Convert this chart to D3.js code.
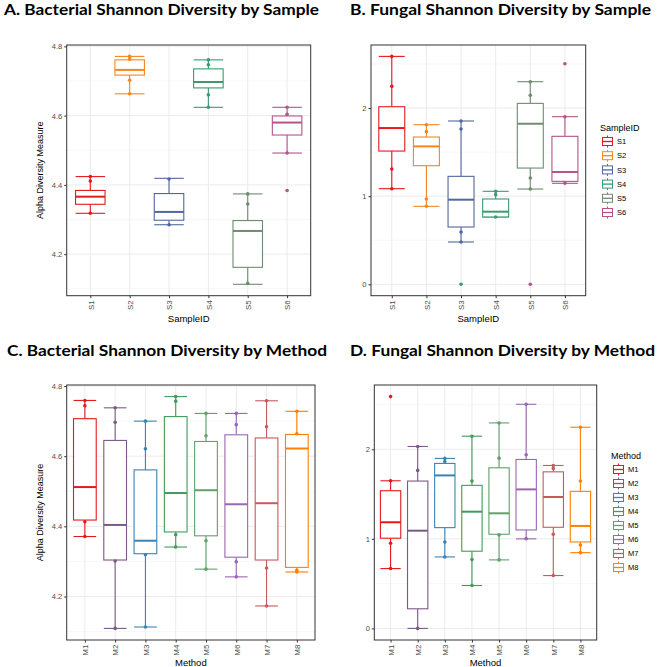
<!DOCTYPE html>
<html><head><meta charset="utf-8">
<script src="https://cdn.jsdelivr.net/npm/d3@7"></script>
<style>
html,body{margin:0;padding:0;background:#fff;}
svg{display:block;}
text{font-family:"Liberation Sans",Arial,sans-serif;}
.title{font-family:Lato,"Open Sans",sans-serif;font-weight:700;font-size:15px;fill:#000;}
</style></head>
<body><svg id="chart" width="657" height="667"></svg>
<script>
// ---------- data ----------
const samples = ["S1","S2","S3","S4","S5","S6"];
const methods = ["M1","M2","M3","M4","M5","M6","M7","M8"];
const sampleColors = ["#E41A1C","#F7861D","#52679C","#3A9A72","#6E8C6E","#B5548A"];
const methodColors = ["#E41A1C","#7C5A86","#3A84B2","#3F9C5A","#62A06C","#9A67B1","#C65B5E","#FF8000"];
const bactTicks = [4.2, 4.4, 4.6, 4.8];
const fungTicks = [0, 1, 2];

// box stats: [lower whisker, q1, median, q3, upper whisker]
const bactSampleBox = [
  [4.318, 4.344, 4.366, 4.384, 4.424],
  [4.663, 4.717, 4.732, 4.761, 4.771],
  [4.285, 4.298, 4.322, 4.375, 4.419],
  [4.624, 4.680, 4.697, 4.735, 4.761],
  [4.113, 4.162, 4.267, 4.297, 4.374],
  [4.492, 4.544, 4.580, 4.599, 4.624]
];
const bactSamplePoints = [
  [4.424, 4.411, 4.318],
  [4.771, 4.763, 4.702, 4.663],
  [4.417, 4.285],
  [4.761, 4.747, 4.660, 4.624],
  [4.374, 4.345, 4.116],
  [4.624, 4.604, 4.492, 4.384]
];
const fungSampleBox = [
  [1.085, 1.512, 1.773, 2.015, 2.586],
  [0.885, 1.346, 1.565, 1.671, 1.811],
  [0.480, 0.650, 0.960, 1.225, 1.853],
  [0.764, 0.764, 0.824, 0.968, 1.055],
  [1.081, 1.319, 1.822, 2.053, 2.299],
  [1.146, 1.168, 1.274, 1.679, 1.902]
];
const fungSamplePoints = [
  [2.586, 2.246, 1.308, 1.085],
  [1.811, 1.732, 0.968, 0.885],
  [1.853, 1.762, 0.594, 0.480],
  [1.055, 1.017, 0.764],
  [2.299, 2.144, 1.206, 1.081],
  [2.503, 1.902, 1.146]
];
// points drawn at one sample position but coloured as another sample
const fungSampleExtra = [
  {at: "S3", colorOf: "S4", value: 0},
  {at: "S5", colorOf: "S6", value: 0}
];
const bactMethodBox = [
  [4.371, 4.418, 4.512, 4.707, 4.759],
  [4.109, 4.304, 4.404, 4.645, 4.738],
  [4.113, 4.322, 4.359, 4.561, 4.700],
  [4.341, 4.384, 4.495, 4.713, 4.770],
  [4.278, 4.373, 4.503, 4.642, 4.722],
  [4.256, 4.312, 4.463, 4.661, 4.722],
  [4.173, 4.304, 4.466, 4.652, 4.758],
  [4.270, 4.283, 4.622, 4.662, 4.728]
];
const bactMethodPoints = [
  [4.759, 4.744, 4.413, 4.371],
  [4.738, 4.697, 4.301, 4.109],
  [4.700, 4.621, 4.319, 4.113],
  [4.770, 4.757, 4.376, 4.341],
  [4.722, 4.658, 4.359, 4.278],
  [4.722, 4.690, 4.299, 4.256],
  [4.758, 4.684, 4.281, 4.173],
  [4.728, 4.664, 4.275, 4.270]
];
const fungMethodBox = [
  [0.668, 1.007, 1.185, 1.537, 1.648],
  [0.000, 0.219, 1.091, 1.645, 2.031],
  [0.798, 1.125, 1.708, 1.842, 1.898],
  [0.479, 0.862, 1.303, 1.597, 2.146],
  [0.765, 1.051, 1.285, 1.793, 2.294],
  [1.000, 1.099, 1.552, 1.886, 2.502],
  [0.590, 1.129, 1.467, 1.748, 1.819],
  [0.846, 0.965, 1.144, 1.530, 2.246]
];
const fungMethodPoints = [
  [2.588, 1.648, 0.951, 0.668],
  [2.031, 1.764, 0.000],
  [1.898, 1.864, 0.965, 0.798],
  [2.146, 1.645, 0.768, 0.479],
  [2.294, 1.901, 1.044, 0.765],
  [2.502, 1.938, 1.002],
  [1.819, 1.786, 1.051, 0.590],
  [2.246, 1.645, 0.932, 0.846]
];

// ---------- drawing ----------
const svg = d3.select("#chart");
const GRID = "#ebebeb", MINOR = "#f4f4f4", TXT = "#4d4d4d";

function panel(opt) {
  const {x0, x1, y0, y1, cats, colors, boxes, points, extra, ticks, xTitle, yTitle, title, tx, ty, tw, legend} = opt;
  const g = svg.append("g");
  svg.append("text").attr("class", "title").attr("x", tx).attr("y", ty)
    .attr("textLength", tw).attr("lengthAdjust", "spacingAndGlyphs").text(title);

  const allVals = boxes.flat().concat(points.flat()).concat((extra || []).map(d => d.value));
  const lo = d3.min(allVals), hi = d3.max(allVals), pad = (hi - lo) * 0.05;
  const y = d3.scaleLinear().domain([lo - pad, hi + pad]).range([y1, y0]);
  const x = d3.scalePoint().domain(cats).range([x0, x1]).padding(0.6);
  const bw = x.step() * 0.75;
  const col = d3.scaleOrdinal().domain(cats).range(colors);

  // background + grid
  g.append("rect").attr("x", x0).attr("y", y0).attr("width", x1 - x0).attr("height", y1 - y0).attr("fill", "#fff");
  const step = ticks[1] - ticks[0];
  const minor = [];
  for (let v = ticks[0] - step / 2; v <= hi + pad; v += step) if (v >= lo - pad) minor.push(v);
  g.selectAll(".mi").data(minor).join("line")
    .attr("x1", x0).attr("x2", x1).attr("y1", d => y(d)).attr("y2", d => y(d))
    .attr("stroke", MINOR).attr("stroke-width", 0.7);
  g.selectAll(".ma").data(ticks).join("line")
    .attr("x1", x0).attr("x2", x1).attr("y1", d => y(d)).attr("y2", d => y(d))
    .attr("stroke", GRID).attr("stroke-width", 1);
  g.selectAll(".vx").data(cats).join("line")
    .attr("x1", d => x(d)).attr("x2", d => x(d)).attr("y1", y0).attr("y2", y1)
    .attr("stroke", GRID).attr("stroke-width", 1);

  // boxes
  cats.forEach((c, i) => {
    const [w0, q1, md, q3, w1] = boxes[i];
    const cx = x(c), k = col(c);
    const bg = g.append("g").attr("stroke", k).attr("fill", "none").attr("stroke-width", 1.1);
    bg.append("line").attr("x1", cx).attr("x2", cx).attr("y1", y(q3)).attr("y2", y(w1));
    bg.append("line").attr("x1", cx).attr("x2", cx).attr("y1", y(q1)).attr("y2", y(w0));
    bg.append("line").attr("x1", cx - bw / 2).attr("x2", cx + bw / 2).attr("y1", y(w1)).attr("y2", y(w1));
    bg.append("line").attr("x1", cx - bw / 2).attr("x2", cx + bw / 2).attr("y1", y(w0)).attr("y2", y(w0));
    bg.append("rect").attr("x", cx - bw / 2).attr("width", bw).attr("y", y(q3)).attr("height", y(q1) - y(q3)).attr("fill", "#fff");
    bg.append("line").attr("x1", cx - bw / 2).attr("x2", cx + bw / 2).attr("y1", y(md)).attr("y2", y(md)).attr("stroke-width", 2);
    g.selectAll(null).data(points[i]).join("circle")
      .attr("cx", cx).attr("cy", d => y(d)).attr("r", 1.8).attr("fill", k);
  });
  (extra || []).forEach(e => {
    g.append("circle").attr("cx", x(e.at)).attr("cy", y(e.value)).attr("r", 1.8).attr("fill", col(e.colorOf));
  });

  // border
  g.append("rect").attr("x", x0).attr("y", y0).attr("width", x1 - x0).attr("height", y1 - y0)
    .attr("fill", "none").attr("stroke", "#333").attr("stroke-width", 1);

  // axes
  const ya = g.append("g").attr("transform", `translate(${x0},0)`)
    .call(d3.axisLeft(y).tickValues(ticks).tickSize(2.5).tickPadding(2).tickFormat(d3.format("")));
  ya.select(".domain").remove();
  ya.selectAll("line").attr("stroke", "#333");
  ya.selectAll("text").attr("fill", TXT).style("font-size", "7.5px");

  const xa = g.append("g").attr("transform", `translate(0,${y1})`)
    .call(d3.axisBottom(x).tickSize(2.5).tickPadding(2));
  xa.select(".domain").remove();
  xa.selectAll("line").attr("stroke", "#333");
  xa.selectAll("text").attr("fill", TXT).style("font-size", "8px")
    .attr("transform", "rotate(-90)").attr("text-anchor", "end")
    .attr("x", -4.5).attr("y", 0).attr("dy", "0.35em");

  svg.append("text").attr("x", (x0 + x1) / 2).attr("y", y1 + 26).attr("text-anchor", "middle")
    .style("font-size", "9.5px").attr("fill", "#000").text(xTitle);
  if (yTitle) {
    svg.append("text").attr("transform", `translate(${x0 - 27},${(y0 + y1) / 2}) rotate(-90)`)
      .attr("text-anchor", "middle").attr("dy", "0.35em").style("font-size", "9px").attr("fill", "#000").text(yTitle);
  }

  if (legend) {
    const lg = svg.append("g").attr("transform", `translate(${legend.x},${legend.y})`);
    lg.append("text").attr("x", 0).attr("y", 0).style("font-size", "9px").attr("fill", "#000").text(legend.title);
    cats.forEach((c, i) => {
      const cy = legend.first + i * legend.gap, k = col(c);
      const kg = lg.append("g").attr("transform", `translate(2,${cy})`).attr("stroke", k).attr("fill", "none").attr("stroke-width", 1);
      kg.append("line").attr("x1", 5.5).attr("x2", 5.5).attr("y1", -6).attr("y2", 6);
      kg.append("rect").attr("x", 0.5).attr("y", -4).attr("width", 10).attr("height", 8).attr("fill", "#fff");
      kg.append("line").attr("x1", 0.5).attr("x2", 10.5).attr("y1", 0).attr("y2", 0).attr("stroke-width", 1.3);
      lg.append("text").attr("x", 17).attr("y", cy).attr("dy", "0.35em").style("font-size", "7.5px").attr("fill", "#000").text(c);
    });
  }
}

panel({x0: 66.7, x1: 310.7, y0: 45, y1: 295.7, cats: samples, colors: sampleColors,
  boxes: bactSampleBox, points: bactSamplePoints, ticks: bactTicks,
  xTitle: "SampleID", yTitle: "Alpha Diversity Measure",
  title: "A. Bacterial Shannon Diversity by Sample", tx: 4, ty: 15, tw: 315});
panel({x0: 371, x1: 585.7, y0: 45, y1: 295.7, cats: samples, colors: sampleColors,
  boxes: fungSampleBox, points: fungSamplePoints, extra: fungSampleExtra, ticks: fungTicks,
  xTitle: "SampleID", yTitle: null,
  title: "B. Fungal Shannon Diversity by Sample", tx: 350, ty: 15, tw: 301,
  legend: {x: 600, y: 131, title: "SampleID", first: 10.5, gap: 14.2}});
panel({x0: 66.7, x1: 315, y0: 385, y1: 640, cats: methods, colors: methodColors,
  boxes: bactMethodBox, points: bactMethodPoints, ticks: bactTicks,
  xTitle: "Method", yTitle: "Alpha Diversity Measure",
  title: "C. Bacterial Shannon Diversity by Method", tx: 7, ty: 356, tw: 320});
panel({x0: 374.3, x1: 596.7, y0: 385, y1: 640, cats: methods, colors: methodColors,
  boxes: fungMethodBox, points: fungMethodPoints, ticks: fungTicks,
  xTitle: "Method", yTitle: null,
  title: "D. Fungal Shannon Diversity by Method", tx: 350, ty: 356, tw: 305,
  legend: {x: 611, y: 459, title: "Method", first: 10.5, gap: 14}});
</script></body></html>
